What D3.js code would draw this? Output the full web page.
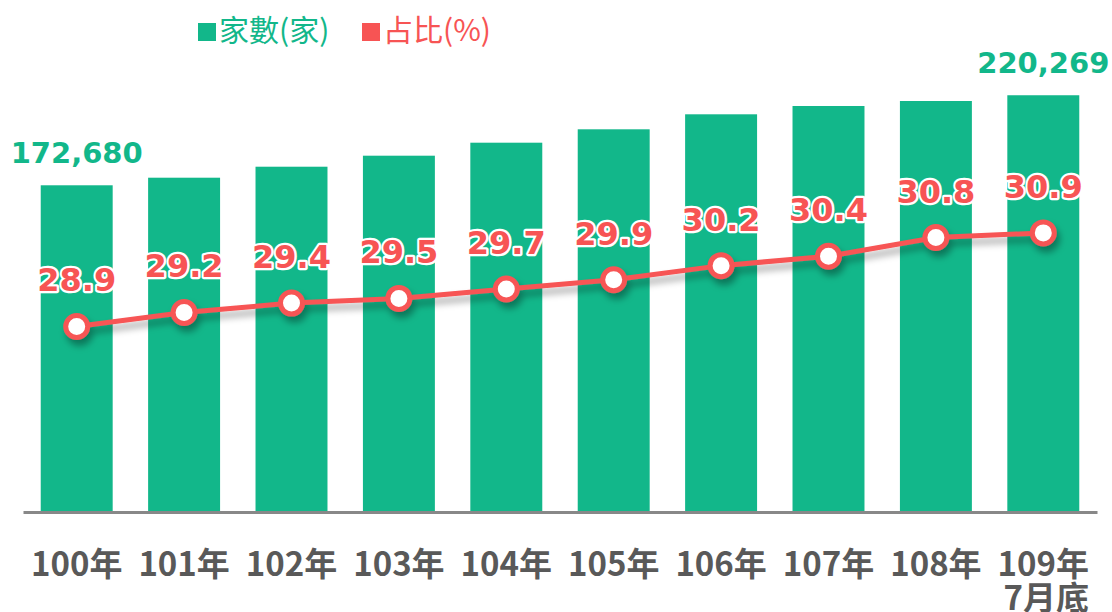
<!DOCTYPE html>
<html>
<head>
<meta charset="utf-8">
<script src="https://cdn.jsdelivr.net/npm/d3@7"></script>
<style>
  body { margin: 0; background: #fff; }
  svg { display: block; }
</style>
</head>
<body>
<div id="chart"></div>
<script>
// data
const years = ["100年", "101年", "102年", "103年", "104年", "105年", "106年", "107年", "108年", "109年"];
const yearSub = ["", "", "", "", "", "", "", "", "", "7月底"];
const counts = [172680, 176690, 182500, 188320, 195190, 202270, 210200, 214590, 217230, 220269];
const shares = [28.9, 29.2, 29.4, 29.5, 29.7, 29.9, 30.2, 30.4, 30.8, 30.9];
const countLabelIdx = [0, 9];

const W = 1112, H = 612;
const base = 512;
const green = "#12b78a", red = "#f75454";

const svg = d3.select("#chart").append("svg")
  .attr("width", W).attr("height", H);

const defs = svg.append("defs");
const sh = defs.append("filter").attr("id", "shadow")
  .attr("x", "-10%").attr("y", "-50%").attr("width", "130%").attr("height", "250%");
sh.append("feDropShadow")
  .attr("dx", 3).attr("dy", 6).attr("stdDeviation", 3.5)
  .attr("flood-color", "#000").attr("flood-opacity", 0.35);

const x = d3.scaleBand().domain(years).range([23, 1097])
  .paddingInner(0.33).paddingOuter(0.165);
const yBar = d3.scaleLinear().domain([0, 270000]).range([base, base - 270000 * 0.001892]);
const yLine = d3.scaleLinear().domain([25, 36]).range([base - 3, base - 3 - 11 * 46.8]);

// bars
svg.append("g").selectAll("rect")
  .data(counts)
  .join("rect")
  .attr("x", (d, i) => x(years[i]))
  .attr("y", d => yBar(d))
  .attr("width", x.bandwidth())
  .attr("height", d => base - yBar(d))
  .attr("fill", green);

// axis
const xAxis = svg.append("g")
  .attr("transform", `translate(0,${base})`)
  .call(d3.axisBottom(x).tickSize(0).tickPadding(0).tickFormat(""));
xAxis.select(".domain").attr("stroke", "#888").attr("stroke-width", 3);

const lab = svg.append("g")
  .style("font-family", "'Noto Sans CJK TC', 'Noto Sans', sans-serif")
  .style("font-size", "33px").style("font-weight", "700")
  .attr("fill", "#595959").attr("text-anchor", "middle");
const top1 = lab.selectAll("text.y1").data(years).join("text")
  .attr("class", "y1")
  .attr("x", d => x(d) + x.bandwidth() / 2)
  .attr("y", 576)
  .text(d => d);
// second line sits flush right under the first
lab.selectAll("text.y2").data(yearSub).join("text")
  .attr("class", "y2")
  .attr("text-anchor", "end")
  .attr("x", (d, i) => {
    const w = top1.nodes()[i].getComputedTextLength();
    return x(years[i]) + x.bandwidth() / 2 + w / 2;
  })
  .attr("y", 610)
  .text(d => d);

// count labels (first and last only)
svg.append("g").selectAll("text")
  .data(countLabelIdx)
  .join("text")
  .attr("x", i => x(years[i]) + x.bandwidth() / 2)
  .attr("y", i => yBar(counts[i]) - 22)
  .attr("text-anchor", "middle")
  .style("font-family", "'DejaVu Sans', sans-serif")
  .style("font-weight", "700").style("font-size", "29px")
  .attr("fill", green)
  .text(i => d3.format(",")(counts[i]));

// line + points
const line = d3.line()
  .x((d, i) => x(years[i]) + x.bandwidth() / 2)
  .y(d => yLine(d));

const lg = svg.append("g").attr("filter", "url(#shadow)");
lg.append("path")
  .datum(shares)
  .attr("d", line)
  .attr("fill", "none")
  .attr("stroke", red)
  .attr("stroke-width", 5);
lg.selectAll("circle")
  .data(shares)
  .join("circle")
  .attr("cx", (d, i) => x(years[i]) + x.bandwidth() / 2)
  .attr("cy", d => yLine(d))
  .attr("r", 11)
  .attr("fill", "#fff")
  .attr("stroke", red)
  .attr("stroke-width", 5);

// share labels
svg.append("g").selectAll("text")
  .data(shares)
  .join("text")
  .attr("x", (d, i) => x(years[i]) + x.bandwidth() / 2)
  .attr("y", d => yLine(d) - 35)
  .attr("text-anchor", "middle")
  .style("font-family", "'DejaVu Sans', sans-serif")
  .style("font-weight", "700").style("font-size", "32px")
  .attr("fill", red)
  .attr("stroke", "#fff").attr("stroke-width", 4.5)
  .attr("stroke-linejoin", "round")
  .style("paint-order", "stroke")
  .text(d => d.toFixed(1));

// legend
const legend = [
  { name: "家數(家)", color: green, x: 198 },
  { name: "占比(%)", color: red, x: 362 }
];
const leg = svg.append("g").selectAll("g").data(legend).join("g")
  .attr("transform", d => `translate(${d.x},0)`);
leg.append("rect")
  .attr("x", 0).attr("y", 23).attr("width", 18).attr("height", 18)
  .attr("fill", d => d.color);
leg.append("text")
  .attr("x", 21).attr("y", 41)
  .style("font-family", "'Noto Sans CJK TC', sans-serif")
  .style("font-size", "30px")
  .attr("fill", d => d.color)
  .text(d => d.name);
</script>
</body>
</html>
